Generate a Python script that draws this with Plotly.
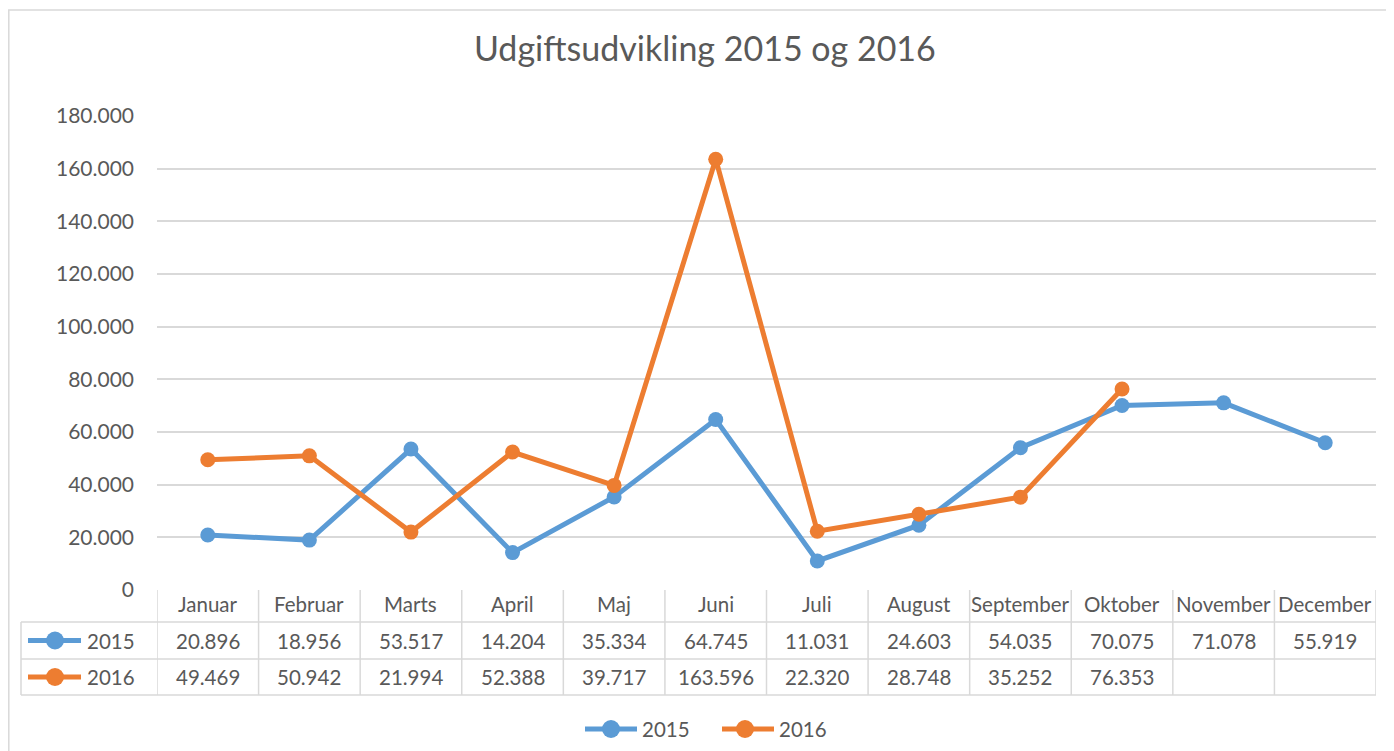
import plotly.graph_objects as go

months = ["Januar", "Februar", "Marts", "April", "Maj", "Juni", "Juli",
          "August", "September", "Oktober", "November", "December"]
series_names = ["2015", "2016"]
values_2015 = [20896, 18956, 53517, 14204, 35334, 64745, 11031, 24603, 54035, 70075, 71078, 55919]
values_2016 = [49469, 50942, 21994, 52388, 39717, 163596, 22320, 28748, 35252, 76353, None, None]
colors = ["#5B9BD5", "#ED7D31"]
y_ticks = [0, 20000, 40000, 60000, 80000, 100000, 120000, 140000, 160000, 180000]

OFF = 8  # page body margin of the html page
W, H = 1394 - OFF, 751 - OFF
L, R, T, B = 157, 1376, 116, 590  # plot area in screen pixels
pw, ph = R - L, B - T

def px(x):
    return (x - L) / pw

def py(y):
    return (B - y) / ph

FONT = "Lato, Carlito, Calibri, sans-serif"
TXT = "#595959"
GRID = "#D9D9D9"
FS = 20.5

fig = go.Figure()
idx = list(range(len(months)))
for name, vals, col in zip(series_names, [values_2015, values_2016], colors):
    fig.add_trace(go.Scatter(
        x=idx, y=vals, name=name, mode="lines+markers",
        line=dict(color=col, width=5),
        marker=dict(color=col, size=15),
        connectgaps=False, showlegend=False,
    ))

shapes = []
annotations = []

# outer chart border
shapes.append(dict(type="rect", xref="paper", yref="paper",
                   x0=px(OFF + 0.8), x1=px(1390), y0=py(800), y1=py(10),
                   line=dict(color=GRID, width=1.5), layer="below"))

# data table
row_y = [590, 622, 659, 695]
for i in range(len(months) + 1):
    shapes.append(dict(type="line", xref="x", yref="paper",
                       x0=i - 0.5, x1=i - 0.5, y0=py(row_y[0]), y1=py(row_y[-1]),
                       line=dict(color=GRID, width=1.5)))
shapes.append(dict(type="line", xref="paper", yref="paper",
                   x0=px(21), x1=px(21), y0=py(row_y[1]), y1=py(row_y[-1]),
                   line=dict(color=GRID, width=1.5)))
for yy in row_y[1:]:
    shapes.append(dict(type="line", xref="paper", yref="paper",
                       x0=px(21), x1=px(R), y0=py(yy), y1=py(yy),
                       line=dict(color=GRID, width=1.5)))

def fmt(v):
    return "" if v is None else f"{v:,}".replace(",", ".")

for i, m in enumerate(months):
    annotations.append(dict(xref="x", yref="paper", x=i, y=py(604), text=m,
                            xanchor="center", yanchor="middle", showarrow=False,
                            font=dict(size=FS, color=TXT, family=FONT)))
    for r, vals in enumerate([values_2015, values_2016]):
        annotations.append(dict(xref="x", yref="paper", x=i,
                                y=py((row_y[r + 1] + row_y[r + 2]) / 2),
                                text=fmt(vals[i]), showarrow=False,
                                xanchor="center", yanchor="middle",
                                font=dict(size=FS, color=TXT, family=FONT)))

def key(x0, x1, xc, yc, col, d=18):
    shapes.append(dict(type="line", xref="paper", yref="paper",
                       x0=px(x0), x1=px(x1), y0=py(yc), y1=py(yc),
                       line=dict(color=col, width=5)))
    shapes.append(dict(type="circle", xref="paper", yref="paper",
                       x0=px(xc - d / 2), x1=px(xc + d / 2),
                       y0=py(yc + d / 2), y1=py(yc - d / 2),
                       fillcolor=col, line=dict(color=col, width=0)))

# row labels with legend keys
for r, (name, col) in enumerate(zip(series_names, colors)):
    yc = (row_y[r + 1] + row_y[r + 2]) / 2
    key(28, 81, 55, yc, col)
    annotations.append(dict(xref="paper", yref="paper", x=px(85), y=py(yc),
                            xanchor="left", yanchor="middle", text=name, showarrow=False,
                            font=dict(size=FS, color=TXT, family=FONT)))

# bottom legend
legend_pos = [(585, 637, 611, 640), (722, 774, 745, 777)]
for (a, b, c, t), name, col in zip(legend_pos, series_names, colors):
    key(a, b, c, 729, col)
    annotations.append(dict(xref="paper", yref="paper", x=px(t), y=py(729),
                            xanchor="left", yanchor="middle", text=name, showarrow=False,
                            font=dict(size=FS, color=TXT, family=FONT)))

# title
annotations.append(dict(xref="paper", yref="paper", x=px(705), y=py(48),
                        xanchor="center", yanchor="middle",
                        text="Udgiftsudvikling 2015 og 2016", showarrow=False,
                        font=dict(size=34, color=TXT, family=FONT)))

fig.update_layout(
    width=W, height=H,
    margin=dict(l=L - OFF, r=W - (R - OFF), t=T - OFF, b=H - (B - OFF), pad=0),
    paper_bgcolor="white", plot_bgcolor="white",
    separators=",.",
    font=dict(family=FONT, color=TXT, size=FS),
    showlegend=False,
    xaxis=dict(range=[-0.5, len(months) - 0.5], showticklabels=False,
               showgrid=False, zeroline=False, showline=False, fixedrange=True,
               automargin=False),
    yaxis=dict(range=[0, 180000], tickvals=y_ticks, tickformat=",.0f",
               showgrid=True, gridcolor=GRID, gridwidth=1.5, zeroline=False,
               showline=False, ticks="", ticklabelstandoff=22, automargin=False,
               tickfont=dict(size=21, color=TXT, family=FONT)),
    shapes=shapes, annotations=annotations,
)

fig.write_html("out.html")
